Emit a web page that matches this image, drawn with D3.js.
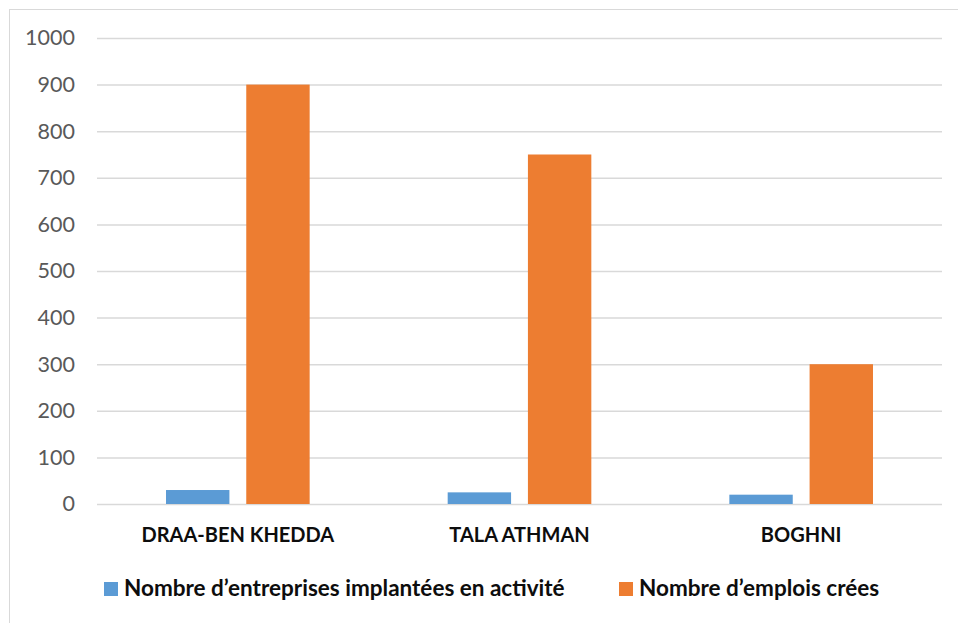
<!DOCTYPE html>
<html><head><meta charset="utf-8">
<script src="https://cdn.jsdelivr.net/npm/d3@7"></script>
<style>body{margin:0;background:#fff}</style>
</head><body>
<svg id="c" width="958" height="623"></svg>
<script>
const categories = ["DRAA-BEN KHEDDA", "TALA ATHMAN", "BOGHNI"];
const seriesNames = ["Nombre d\u2019entreprises implantées en activité", "Nombre d\u2019emplois crées"];
const entreprises = [30, 25, 20];
const emplois = [900, 750, 300];
const yTicks = [0, 100, 200, 300, 400, 500, 600, 700, 800, 900, 1000];
const colors = ["#5b9bd5", "#ed7d31"];

const svg = d3.select("#c");
const fontFam = "Lato, 'Open Sans', 'Liberation Sans', sans-serif";

// frame
svg.append("rect").attr("x", 9.5).attr("y", 9.5).attr("width", 960).attr("height", 630)
  .attr("fill", "#fff").attr("stroke", "#d9d9d9").attr("stroke-width", 1);

const x0 = 97, x1 = 942, yTop = 38, yBot = 504;
const y = d3.scaleLinear().domain([0, 1000]).range([yBot, yTop]);
const x = d3.scaleBand().domain(categories).range([x0, x1]).paddingInner(0).paddingOuter(0);
const xs = d3.scaleBand().domain([0, 1]).range([0, x.bandwidth()]).paddingInner(0.21).paddingOuter(0.86);

// gridlines
const yAxis = d3.axisLeft(y).tickValues(yTicks).tickSize(-(x1 - x0)).tickFormat(d3.format("d")).tickPadding(22);
const ga = svg.append("g").attr("transform", `translate(${x0},0)`).call(yAxis);
ga.select(".domain").remove();
ga.selectAll(".tick line").attr("stroke", "#d9d9d9").attr("stroke-width", 1.5);
ga.selectAll(".tick text").attr("fill", "#595959").style("font-size", "21.5px").style("font-family", fontFam);

const data = [entreprises, emplois];
data.forEach((vals, si) => {
  svg.append("g").selectAll("rect").data(categories).join("rect")
    .attr("x", (c) => x(c) + xs(si))
    .attr("width", xs.bandwidth())
    .attr("y", (c, i) => y(vals[i]))
    .attr("height", (c, i) => yBot - y(vals[i]))
    .attr("fill", colors[si]);
});

// x axis labels
const xAxis = d3.axisBottom(x).tickSize(0).tickPadding(24);
const gx = svg.append("g").attr("transform", `translate(0,${yBot})`).call(xAxis);
gx.select(".domain").remove();
gx.selectAll(".tick text").attr("fill", "#0d0d0d").style("font-size", "20px")
  .style("font-weight", "bold").style("font-family", fontFam);

// legend
const legend = [{x: 104, name: seriesNames[0], c: colors[0]}, {x: 619, name: seriesNames[1], c: colors[1]}];
const lg = svg.append("g");
legend.forEach(l => {
  lg.append("rect").attr("x", l.x).attr("y", 582).attr("width", 14).attr("height", 14).attr("fill", l.c);
  lg.append("text").attr("x", l.x + 20).attr("y", 596).text(l.name)
    .attr("fill", "#0d0d0d").style("font-size", "22.5px").style("font-weight", "bold").style("font-family", fontFam);
});
</script>
</body></html>
